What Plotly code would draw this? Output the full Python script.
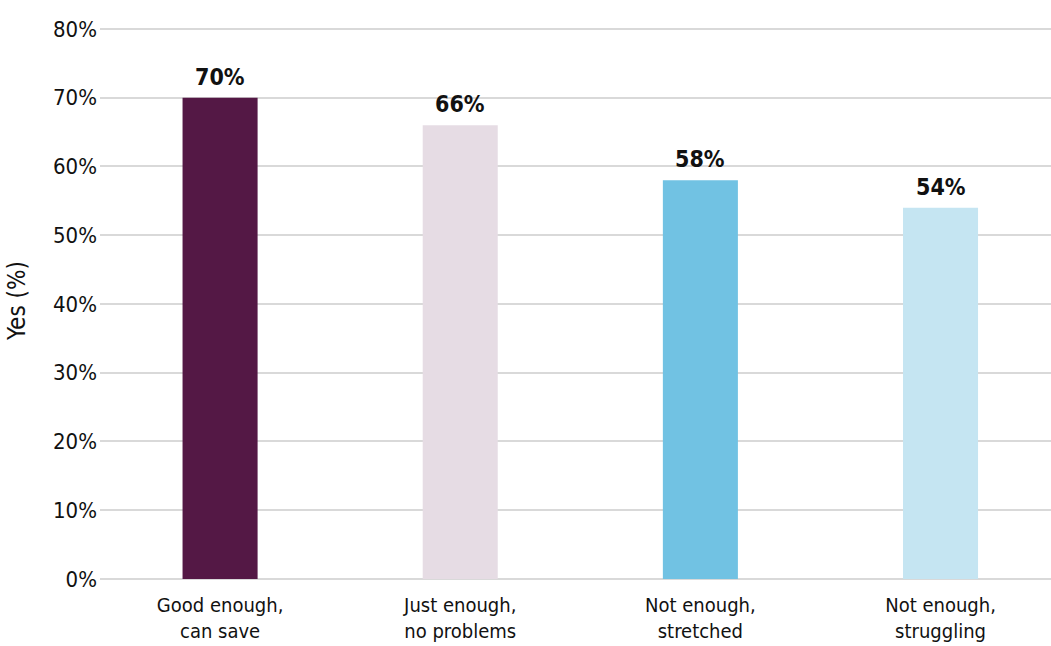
import plotly.graph_objects as go

categories = ["Good enough,<br>can save", "Just enough,<br>no problems", "Not enough,<br>stretched", "Not enough,<br>struggling"]
values = [70, 66, 58, 54]
bar_colors = ["#541845", "#E6DCE4", "#71C2E3", "#C5E5F2"]
tick_vals = [0, 10, 20, 30, 40, 50, 60, 70, 80]
tick_text = [f"{v}%" for v in tick_vals]

FONT = "DejaVu Sans Condensed"

fig = go.Figure(go.Bar(
    x=list(range(len(categories))),
    y=values,
    marker=dict(color=bar_colors, line=dict(width=0)),
    width=0.3125,
    hoverinfo="y",
))

for i, v in enumerate(values):
    fig.add_annotation(
        x=i, y=v, xref="x", yref="y",
        text=f"<b>{v}%</b>", showarrow=False,
        yanchor="bottom", yshift=6,
        font=dict(family=FONT, size=23, color="#111111"),
    )

fig.update_layout(
    width=1051, height=646,
    margin=dict(l=100, r=0, t=22, b=67),
    plot_bgcolor="white", paper_bgcolor="white",
    showlegend=False,
    font=dict(family=FONT, color="#111111"),
    xaxis=dict(
        range=[-0.5, 3.46],
        tickvals=list(range(len(categories))),
        ticktext=categories,
        tickfont=dict(family=FONT, size=20, color="#111111"),
        showgrid=False, zeroline=False, showline=False,
        ticks="", ticklabelstandoff=12,
    ),
    yaxis=dict(
        range=[0, 81],
        tickvals=tick_vals,
        ticktext=tick_text,
        tickfont=dict(family=FONT, size=22, color="#111111"),
        showgrid=True, gridcolor="#d9d9d9", gridwidth=1.5,
        zeroline=True, zerolinecolor="#d9d9d9", zerolinewidth=1.5,
        showline=False, ticks="", ticklabelstandoff=2,
        title=dict(text="Yes (%)", font=dict(family=FONT, size=24, color="#111111"), standoff=20),
    ),
)

fig.write_html("out.html")
